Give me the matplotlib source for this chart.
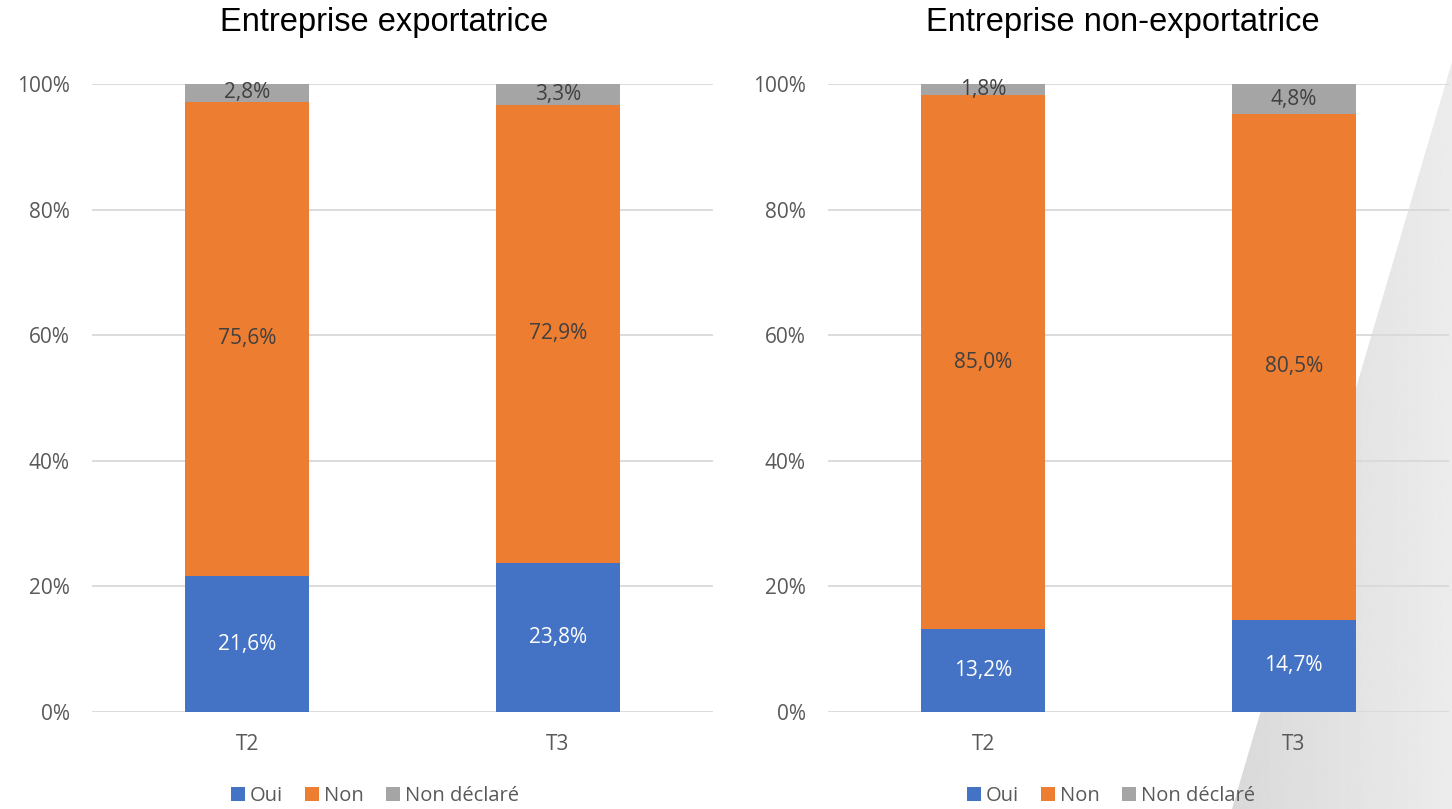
import matplotlib.pyplot as plt
import numpy as np
from matplotlib.patches import Polygon

categories = ['T2', 'T3']
series = ['Oui', 'Non', 'Non déclaré']
colors = ['#4472C4', '#ED7D31', '#A5A5A5']

export_oui = [21.6, 23.8]
export_non = [75.6, 72.9]
export_nd = [2.8, 3.3]

nonexport_oui = [13.2, 14.7]
nonexport_non = [85.0, 80.5]
nonexport_nd = [1.8, 4.8]

panels = [
	('Entreprise exportatrice', [export_oui, export_non, export_nd]),
	('Entreprise non-exportatrice', [nonexport_oui, nonexport_non, nonexport_nd]),
]

W, H = 1452, 809
fig = plt.figure(figsize=(W / 100, H / 100), dpi=100)

# decorative grey wedge in the lower right corner
bg = fig.add_axes([0, 0, 1, 1], zorder=-10)
bg.set_xlim(0, W)
bg.set_ylim(H, 0)
bg.axis('off')
shade = np.linspace(0.85, 0.925, 256).reshape(1, -1)
img = bg.imshow(shade, extent=[1230, W, H, 0], cmap='gray', vmin=0, vmax=1,
	aspect='auto', interpolation='bilinear')
tri = Polygon([[W, 62], [W, H], [1232, H]], closed=True, transform=bg.transData)
img.set_clip_path(tri)

label_font = 'Open Sans'
x = np.arange(len(categories))
lefts = [92, 828]
title_x = [0.470, 0.475]
for (title, vals), left, tx in zip(panels, lefts, title_x):
	ax = fig.add_axes([left / W, (H - 712) / H, 621 / W, 628 / H])
	ax.set_facecolor('none')
	bottom = np.zeros(len(categories))
	for name, v, c in zip(series, vals, colors):
		v = np.array(v)
		ax.bar(x, v, 0.4, bottom=bottom, color=c, label=name, zorder=3)
		for xi, b, h in zip(x, bottom, v):
			txt = ('%.1f%%' % h).replace('.', ',')
			ax.text(xi, b + h / 2, txt, ha='center', va='center', fontsize=15,
				family=label_font, color='white' if name == 'Oui' else '#404040', zorder=4)
		bottom += v
	ax.set_xlim(-0.5, 1.5)
	ax.set_ylim(0, 100)
	ax.set_yticks(range(0, 101, 20))
	ax.set_yticklabels(['%d%%' % t for t in range(0, 101, 20)])
	ax.set_xticks(x)
	ax.set_xticklabels(categories)
	ax.grid(axis='y', color='#D9D9D9', linewidth=1.3, zorder=0)
	for s in ax.spines.values():
		s.set_visible(False)
	ax.tick_params(length=0, labelsize=15, labelcolor='#595959', pad=16)
	ax.tick_params(axis='x', pad=16)
	for lab in ax.get_xticklabels() + ax.get_yticklabels():
		lab.set_family(label_font)
	ax.set_title(title, fontsize=23.5, family='Liberation Sans', pad=38, x=tx)
	h, l = ax.get_legend_handles_labels()
	fig.legend(h, l, loc='center', bbox_to_anchor=((left + 283) / W, 1 - 796 / H),
		ncol=3, frameon=False, prop={'family': label_font, 'size': 14.5},
		labelcolor='#595959', handlelength=0.7, handleheight=0.7,
		handletextpad=0.25, columnspacing=1.1)

fig.savefig('out.png', dpi=100)
